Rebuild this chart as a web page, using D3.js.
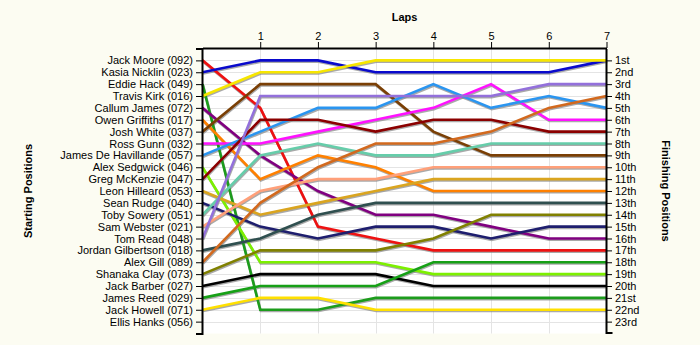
<!DOCTYPE html>
<html>
<head>
<meta charset="utf-8">
<script src="https://cdn.jsdelivr.net/npm/d3@7"></script>
<style>
  html, body { margin: 0; padding: 0; background: #fcfcf2; }
  svg { display: block; font-family: "Liberation Sans", Arial, sans-serif; }
</style>
</head>
<body>
<svg id="chart" width="700" height="345"></svg>
<script>
// ---- data ----
const laps = [0, 1, 2, 3, 4, 5, 6, 7];
const lapTicks = [1, 2, 3, 4, 5, 6, 7];
const drivers = [
  "Jack Moore (092)", "Kasia Nicklin (023)", "Eddie Hack (049)", "Travis Kirk (016)",
  "Callum James (072)", "Owen Griffiths (017)", "Josh White (037)", "Ross Gunn (032)",
  "James De Havillande (057)", "Alex Sedgwick (046)", "Greg McKenzie (047)", "Leon Hilleard (053)",
  "Sean Rudge (040)", "Toby Sowery (051)", "Sam Webster (021)", "Tom Read (048)",
  "Jordan Gilbertson (018)", "Alex Gill (089)", "Shanaka Clay (073)", "Jack Barber (027)",
  "James Reed (029)", "Jack Howell (071)", "Ellis Hanks (056)"
];
const colors = [
  "#ee1111", "#0a0acc", "#1c9c1c", "#f7e600",
  "#800080", "#ff8000", "#7a3f05", "#ff11ff",
  "#2a95f0", "#7cf000", "#8b0000", "#daa520",
  "#1e1e6e", "#66cdaa", "#ffa07a", "#9370db",
  "#2f4f4f", "#d2691e", "#808000", "#000000",
  "#16a016", "#ffe000", "#999999"
];
// position of each driver at laps 0..7 (null = no data)
const positions = [
  [1, 5, 15, 16, 17, 17, 17, 17],
  [2, 1, 1, 2, 2, 2, 2, 1],
  [3, 22, 22, 21, 21, 21, 21, 21],
  [4, 2, 2, 1, 1, 1, 1, 1],
  [5, 9, 12, 14, 14, 15, 16, 16],
  [6, 11, 9, 10, 12, 12, 12, 12],
  [7, 3, 3, 3, 7, 9, 9, 9],
  [8, 8, 7, 6, 5, 3, 6, 6],
  [9, 7, 5, 5, 3, 5, 4, 5],
  [10, 18, 18, 18, 19, 19, 19, 19],
  [11, 6, 6, 7, 6, 6, 7, 7],
  [12, 14, 13, 12, 11, 11, 11, 11],
  [13, 15, 16, 15, 15, 16, 15, 15],
  [14, 9, 8, 9, 9, 8, 8, 8],
  [15, 12, 11, 11, 10, 10, 10, 10],
  [16, 4, 4, 4, 4, 4, 3, 3],
  [17, 16, 14, 13, 13, 13, 13, 13],
  [18, 13, 10, 8, 8, 7, 5, 4],
  [19, 17, 17, 17, 16, 14, 14, 14],
  [20, 19, 19, 19, 20, 20, 20, 20],
  [21, 20, 20, 20, 18, 18, 18, 18],
  [22, 21, 21, 22, 22, 22, 22, 22],
  null
];
const finishLabels = [
  "1st", "2nd", "3rd", "4th", "5th", "6th", "7th", "8th", "9th", "10th", "11th", "12th",
  "13th", "14th", "15th", "16th", "17th", "18th", "19th", "20th", "21st", "22nd", "23rd"
];
const posTicks = d3.range(1, 24);

// ---- layout ----
const svg = d3.select("#chart");
const pLeft = 202.5, pRight = 606.5, pTop = 48.5, pBottom = 333.5;
const x = d3.scaleLinear().domain([0, 7]).range([pLeft, pRight]);
const y = d3.scaleLinear().domain([0, 24]).range([pTop, pBottom]);

// plot background
svg.append("rect").attr("x", pLeft).attr("y", pTop)
  .attr("width", pRight - pLeft).attr("height", pBottom - pTop).attr("fill", "#ffffff");

// grid
const grid = svg.append("g").attr("stroke", "#e4e4e4").attr("stroke-width", 1);
grid.selectAll("line.h").data(posTicks).join("line")
  .attr("x1", pLeft).attr("x2", pRight)
  .attr("y1", d => Math.round(y(d)) + 0.5).attr("y2", d => Math.round(y(d)) + 0.5);
grid.selectAll("line.v").data(lapTicks.slice(0, -1)).join("line")
  .attr("y1", pTop).attr("y2", pBottom)
  .attr("x1", d => Math.round(x(d)) + 0.5).attr("x2", d => Math.round(x(d)) + 0.5);

// lines
const line = d3.line()
  .defined(d => d != null)
  .x((d, i) => x(laps[i]))
  .y(d => y(d));

const series = drivers.map((name, i) => ({ name, color: colors[i], pos: positions[i] }))
  .filter(s => s.pos);

const gLines = svg.append("g");
gLines.selectAll("path.shadow").data(series).join("path")
  .attr("class", "shadow")
  .attr("d", d => line(d.pos))
  .attr("transform", "translate(0.6,1.3)")
  .attr("fill", "none").attr("stroke", "#8c8c8c").attr("stroke-width", 2.6)
  .attr("stroke-opacity", 0.75);
gLines.selectAll("path.series").data(series).join("path")
  .attr("class", "series")
  .attr("d", d => line(d.pos))
  .attr("fill", "none").attr("stroke", d => d.color).attr("stroke-width", 2.6)
  .attr("stroke-linejoin", "miter");

// axes
const fontSize = 11;
const leftAxis = d3.axisLeft(y).tickValues(posTicks).tickSize(6).tickSizeOuter(6)
  .tickFormat(d => drivers[d - 1]);
const gl = svg.append("g").attr("transform", `translate(${pLeft - 0.5},0)`).call(leftAxis);

const rightAxis = d3.axisRight(y).tickValues(posTicks).tickSize(6).tickSizeOuter(0)
  .tickFormat(d => finishLabels[d - 1]);
const gr = svg.append("g").attr("transform", `translate(${pRight - 0.5},0)`).call(rightAxis);

const topAxis = d3.axisTop(x).tickValues(lapTicks).tickSize(6).tickSizeOuter(0)
  .tickFormat(d3.format("d"));
const gt = svg.append("g").attr("transform", `translate(0,${pTop - 0.5})`).call(topAxis);

[gl, gr, gt].forEach(g => {
  g.attr("font-family", "Liberation Sans, Arial, sans-serif").attr("font-size", fontSize);
  g.selectAll("text").attr("fill", "#000");
  g.selectAll("line").attr("stroke", "#000");
  g.select(".domain").attr("stroke", "#000").attr("stroke-width", 2);
});
gl.selectAll(".tick text").attr("x", -9);
gr.selectAll(".tick text").attr("x", 9);
gt.selectAll(".tick text").attr("y", -8);

// right axis bottom stub
svg.append("line")
  .attr("x1", pRight - 0.5).attr("x2", pRight + 6)
  .attr("y1", y(24) - 0.5).attr("y2", y(24) - 0.5)
  .attr("stroke", "#000").attr("stroke-width", 2);

// titles
svg.append("text").attr("x", (pLeft + pRight) / 2).attr("y", 21)
  .attr("text-anchor", "middle").attr("font-weight", "bold").attr("font-size", 11)
  .text("Laps");
svg.append("text")
  .attr("transform", `translate(32,${(pTop + pBottom) / 2}) rotate(-90)`)
  .attr("text-anchor", "middle").attr("font-weight", "bold").attr("font-size", 11)
  .text("Starting Positions");
svg.append("text")
  .attr("transform", `translate(662,${(pTop + pBottom) / 2}) rotate(90)`)
  .attr("text-anchor", "middle").attr("font-weight", "bold").attr("font-size", 11)
  .text("Finishing Positions");
</script>
</body>
</html>
